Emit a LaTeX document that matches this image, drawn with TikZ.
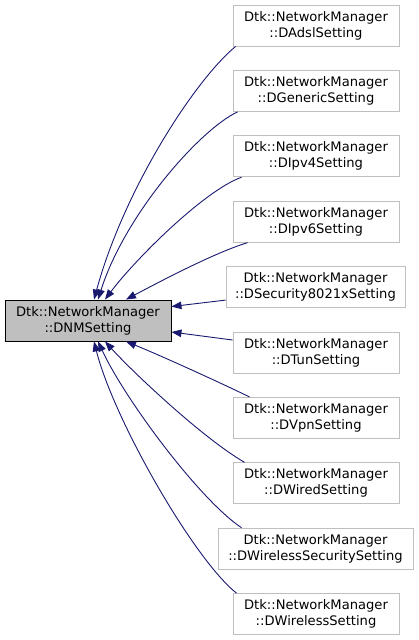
\documentclass[tikz,border=0pt]{standalone}
\usepackage{fontspec}
\setmainfont{DejaVu Sans}
\usetikzlibrary{arrows.meta}
\definecolor{edgec}{HTML}{191970}
\definecolor{boxline}{HTML}{BFBFBF}
\definecolor{boxfill}{HTML}{BFBFBF}
\begin{document}
\begin{tikzpicture}[x=1pt,y=-1pt,
  box/.style={draw=boxline, fill=white, line width=0.9pt, minimum width=166pt, minimum height=41pt,
    inner sep=0pt, align=center, font=\fontsize{13.1}{16}\selectfont},
  mainbox/.style={box, draw=black, fill=boxfill},
  edge/.style={draw=edgec, line width=0.9pt, {Triangle[length=10pt,width=7.5pt]}-}
]
\useasboundingbox (0,0) rectangle (419,640);
\node[mainbox] (m) at (88,320.5) {Dtk::NetworkManager\\::DNMSetting};
\node[box] (c0) at (316,25.5) {Dtk::NetworkManager\\::DAdslSetting};
\node[box] (c1) at (316,90.9) {Dtk::NetworkManager\\::DGenericSetting};
\node[box] (c2) at (316,156.3) {Dtk::NetworkManager\\::DIpv4Setting};
\node[box] (c3) at (316,221.7) {Dtk::NetworkManager\\::DIpv6Setting};
\node[box, minimum width=179pt] (c4) at (315.5,287.1) {Dtk::NetworkManager\\::DSecurity8021xSetting};
\node[box] (c5) at (316,352.5) {Dtk::NetworkManager\\::DTunSetting};
\node[box] (c6) at (316,417.9) {Dtk::NetworkManager\\::DVpnSetting};
\node[box] (c7) at (316,483.3) {Dtk::NetworkManager\\::DWiredSetting};
\node[box, minimum width=195pt] (c8) at (315.5,548.7) {Dtk::NetworkManager\\::DWirelessSecuritySetting};
\node[box] (c9) at (316,614.1) {Dtk::NetworkManager\\::DWirelessSetting};

\draw[edge] ([xshift=6pt]m.north) .. controls +(30,-110) and +(-41,34) .. ([xshift=3pt]c0.south west);
\draw[edge] ([xshift=10pt]m.north) .. controls +(27,-85) and +(-38,18) .. ([xshift=5pt]c1.south west);
\draw[edge] ([xshift=17pt]m.north) .. controls +(30,-40) and +(-37,13) .. ([xshift=9pt]c2.south west);
\draw[edge] ([xshift=38pt]m.north) .. controls +(32,-17) and +(-33,10) .. ([xshift=15pt]c3.south west);
\draw[edge] ([yshift=-7pt]m.north east) -- ([yshift=-13pt]c4.west);
\draw[edge] ([yshift=-11.5pt]m.east) -- ([yshift=12.5pt]c5.west);
\draw[edge] ([xshift=38pt]m.south) .. controls +(32,13) and +(-35,-17) .. ([xshift=17pt]c6.north west);
\draw[edge] ([xshift=17pt]m.south) .. controls +(30,33) and +(-40,-23) .. ([xshift=12pt]c7.north west);
\draw[edge] ([xshift=10pt]m.south) .. controls +(27,58) and +(-42,-28) .. ([xshift=24pt]c8.north west);
\draw[edge] ([xshift=6pt]m.south) .. controls +(20,79) and +(-42,-33) .. ([xshift=4pt]c9.north west);
\end{tikzpicture}
\end{document}
